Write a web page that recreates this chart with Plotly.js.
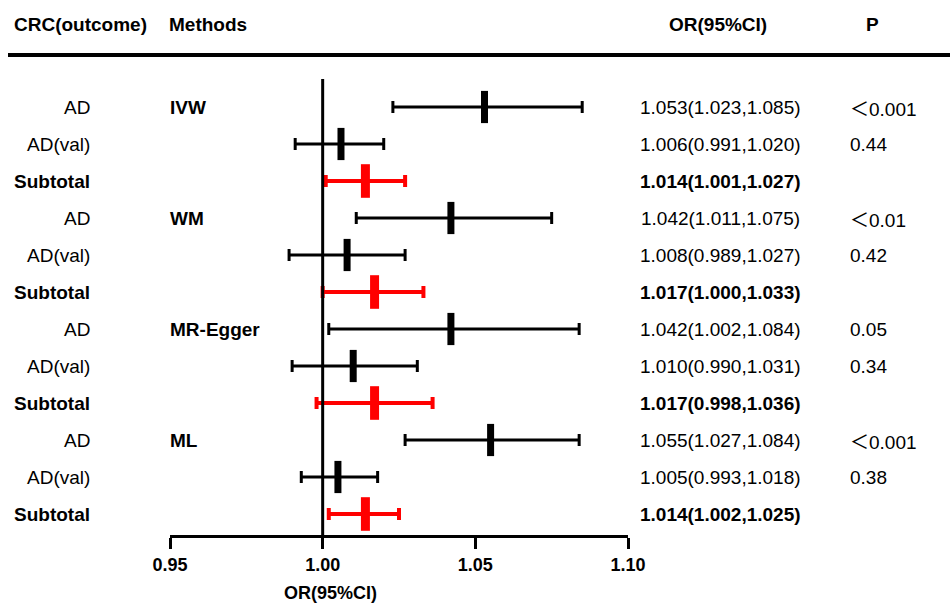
<!DOCTYPE html>
<html>
<head>
<meta charset="utf-8">
<script src="https://cdn.plot.ly/plotly-3.0.1.min.js"></script>
<style>html,body{margin:0;padding:0;background:#fff;}#chart{width:950px;height:606px;}</style>
</head>
<body>
<div id="chart"></div>
<script>
// ---- data ----
const outcomes = ["AD","AD(val)","Subtotal","AD","AD(val)","Subtotal","AD","AD(val)","Subtotal","AD","AD(val)","Subtotal"];
const methods = ["IVW","WM","MR-Egger","ML"];
const orValues = [1.053,1.006,1.014,1.042,1.008,1.017,1.042,1.010,1.017,1.055,1.005,1.014];
const ciLow   = [1.023,0.991,1.001,1.011,0.989,1.000,1.002,0.990,0.998,1.027,0.993,1.002];
const ciHigh  = [1.085,1.020,1.027,1.075,1.027,1.033,1.084,1.031,1.036,1.084,1.018,1.025];
const pValues = ["＜0.001","0.44","","＜0.01","0.42","","0.05","0.34","","＜0.001","0.38",""];
const tickVals = [0.95,1.00,1.05,1.10];
const tickText = ["0.95","1.00","1.05","1.10"];

// ---- layout geometry ----
const W = 950, H = 606;
const L = 170, R = 322, T = 79, B = 71;
const PW = W - L - R, PH = H - T - B;
const px = p => (p - L) / PW;          // pixel x -> paper x
const py = p => (H - B - p) / PH;      // pixel y -> paper y
const FONT = "Liberation Sans, Arial, sans-serif";
const CJK = "Noto Sans CJK SC";

const rows = orValues.map((_, i) => i);
const isSub = outcomes.map(o => o === "Subtotal");

function pick(arr, want) { return arr.filter((_, i) => isSub[i] === want); }

function makeTrace(want, color, mw, size, th) {
  const x = pick(orValues, want);
  const lo = pick(ciLow, want), hi = pick(ciHigh, want);
  return {
    type: "scatter", mode: "markers",
    x: x, y: pick(rows, want),
    marker: {symbol: "line-ns-open", size: size, color: color, line: {color: color, width: mw}},
    error_x: {type: "data", symmetric: false,
      array: hi.map((h, i) => h - x[i]), arrayminus: x.map((v, i) => v - lo[i]),
      color: color, thickness: th, width: 6},
    hoverinfo: "skip", showlegend: false, cliponaxis: false
  };
}

const traces = [makeTrace(false, "#000000", 7, 23, 3), makeTrace(true, "#ff0000", 9, 24, 4)];

const ann = [];
const hdr = {size: 19, color: "#000", family: FONT, weight: "bold"};
function addText(text, x, y, xanchor, font, yref, yanchor) {
  ann.push({text: text, x: x, y: y, xref: "paper", yref: yref || "y", xanchor: xanchor, yanchor: yanchor || "middle",
            showarrow: false, font: font});
}
addText("<b>CRC(outcome)</b>", px(12), py(25), "left", hdr, "paper");
addText("<b>Methods</b>", px(167), py(25), "left", hdr, "paper");
addText("<b>OR(95%CI)</b>", px(718), py(25), "center", hdr, "paper");
addText("<b>P</b>", px(872), py(25), "center", hdr, "paper");

const reg = {size: 19, color: "#000", family: FONT};
outcomes.forEach((o, i) => {
  const txt = isSub[i] ? "<b>" + o + "</b>" : o;
  addText(txt, px(92), i, "right", reg);
  const s = orValues[i].toFixed(3) + "(" + ciLow[i].toFixed(3) + "," + ciHigh[i].toFixed(3) + ")";
  addText(isSub[i] ? "<b>" + s + "</b>" : s, px(720), i, "center", reg);
  if (pValues[i]) {
    const p = pValues[i].replace("＜", '<span style="font-family:' + CJK + '">＜</span>');
    addText(p, px(848), i, "left", reg);
  }
});
methods.forEach((m, k) => addText("<b>" + m + "</b>", px(168), k * 3, "left", reg));
addText("<b>OR(95%CI)</b>", px(330), py(605), "center", {size: 18, color: "#000", family: FONT}, "paper", "bottom");

const layout = {
  width: W, height: H,
  margin: {l: L, r: R, t: T, b: B, pad: 0},
  paper_bgcolor: "#fff", plot_bgcolor: "#fff",
  font: {family: FONT, size: 19, color: "#000"},
  xaxis: {range: [0.95, 1.10], tickvals: tickVals, ticktext: tickText,
    showline: true, linewidth: 3, linecolor: "#000", ticks: "outside", ticklen: 11, tickwidth: 3, tickcolor: "#000",
    showgrid: false, zeroline: false, fixedrange: true,
    tickfont: {size: 18, family: FONT, weight: "bold"}},
  yaxis: {range: [(535 - 107) / 37, (79 - 107) / 37], visible: false, showgrid: false, zeroline: false, fixedrange: true},
  shapes: [
    {type: "line", xref: "x", yref: "paper", x0: 1, x1: 1, y0: 0, y1: 1, line: {color: "#000", width: 3}},
    {type: "line", xref: "paper", yref: "paper", x0: px(8), x1: px(950), y0: py(55), y1: py(55), line: {color: "#000", width: 4}}
  ],
  annotations: ann
};
Plotly.newPlot("chart", traces, layout, {displayModeBar: false, staticPlot: true});
</script>
</body>
</html>
